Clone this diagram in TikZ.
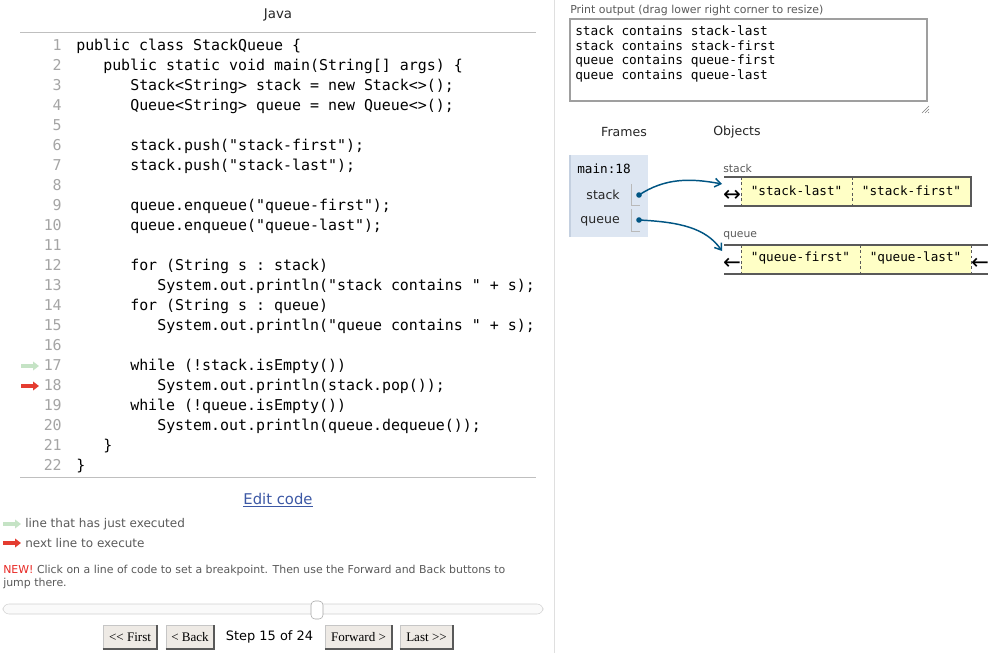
\documentclass[tikz,border=0pt]{standalone}
\usepackage{fontspec}
\setmainfont{DejaVu Sans}
\setmonofont{DejaVu Sans Mono}
\newfontfamily\btnfont{Liberation Serif}
\usetikzlibrary{arrows.meta}
\definecolor{objyellow}{RGB}{255,255,198}
\definecolor{framebg}{RGB}{221,230,242}
\definecolor{frameedge}{RGB}{196,208,224}
\definecolor{ptrblue}{RGB}{0,85,131}
\definecolor{lnumgray}{RGB}{165,165,165}
\definecolor{greenmark}{RGB}{197,227,197}
\definecolor{redmark}{RGB}{228,60,48}
\definecolor{linkblue}{RGB}{60,88,165}
\definecolor{btnfill}{RGB}{238,234,229}
\definecolor{newred}{RGB}{232,40,36}
\definecolor{softgray}{RGB}{90,90,90}
\begin{document}
\begin{tikzpicture}[x=0.75pt,y=-0.75pt]
\tikzstyle{every node}=[inner sep=0pt]
\tikzstyle{codeline}=[anchor=base west,font=\fontsize{11.2}{13}\selectfont\ttfamily]
\tikzstyle{lnum}=[anchor=base east,text=lnumgray,font=\fontsize{11.2}{13}\selectfont\ttfamily]
\tikzstyle{outline}=[anchor=west,font=\fontsize{9.6}{11}\selectfont\ttfamily]
\tikzstyle{legend}=[anchor=west,text=softgray,font=\fontsize{9}{11}\selectfont]
\tikzstyle{smalltext}=[anchor=west,text=softgray,font=\fontsize{8.2}{10}\selectfont]
\tikzstyle{header}=[text=black!85,font=\fontsize{9.4}{11}\selectfont]
\tikzstyle{button}=[fill=btnfill,draw=gray!45,minimum height=18pt,font=\btnfont\fontsize{9.8}{11}\selectfont]
\tikzstyle{btnshadow}=[gray!70!black,line width=1.3pt]
\tikzstyle{linemark}=[line width=3pt,-{Triangle[length=4.5pt,width=6.5pt]}]
\tikzstyle{ptrdot}=[circle,fill=ptrblue,minimum size=4.2pt]
\tikzstyle{ptr}=[ptrblue,line width=1.1pt,-{Straight Barb[length=4.5pt,width=6.5pt]}]
\tikzstyle{celltext}=[font=\fontsize{9.5}{11}\selectfont\ttfamily]
\tikzstyle{objedge}=[black!65,line width=0.8pt]
\tikzstyle{celldash}=[black!65,dash pattern=on 2pt off 2pt,line width=0.6pt]
\tikzstyle{endglyph}=[font=\fontsize{16}{16}\selectfont]
\fill[white] (0,0) rectangle (1005,670);
\useasboundingbox (0,0) rectangle (1005,670);

\node[header,font=\fontsize{10}{11}\selectfont] (java) at (278,15) {Java};
\draw[gray!50] (20,32) -- (536,32);
\draw[gray!50] (20,477) -- (536,477);
\draw[gray!25] (554,0) -- (554,653);
\foreach \row in {1,...,22}
  \node[lnum] (num\row) at (62,{50.7+20*(\row-1)}) {\row};
\foreach \row/\lvl/\src in {
  1/0/{public class StackQueue \{},
  2/1/{public static void main(String[] args) \{},
  3/2/{Stack<String> stack = new Stack<>();},
  4/2/{Queue<String> queue = new Queue<>();},
  6/2/{stack.push("stack-first");},
  7/2/{stack.push("stack-last");},
  9/2/{queue.enqueue("queue-first");},
  10/2/{queue.enqueue("queue-last");},
  12/2/{for (String s : stack)},
  13/3/{System.out.println("stack contains " + s);},
  14/2/{for (String s : queue)},
  15/3/{System.out.println("queue contains " + s);},
  17/2/{while (!stack.isEmpty())},
  18/3/{System.out.println(stack.pop());},
  19/2/{while (!queue.isEmpty())},
  20/3/{System.out.println(queue.dequeue());},
  21/1/{\}},
  22/0/{\}}}
  \node[codeline] (code\row) at ({76+27*\lvl},{50.7+20*(\row-1)}) {\src};
\draw[linemark,greenmark] (21,366) -- (39,366);
\draw[linemark,redmark] (21,386) -- (39,386);

\node[text=linkblue,font=\fontsize{11.1}{13}\selectfont] (edit) at (278,500) {\underline{Edit code}};
\draw[linemark,greenmark] (3,524) -- (21,524);
\draw[linemark,redmark] (3,543) -- (21,543);
\node[legend] (justdone) at (25,524) {line that has just executed};
\node[legend] (nextup) at (25,543) {next line to execute};
\node[smalltext] (news) at (3,570) {\textcolor{newred}{NEW!} Click on a line of code to set a breakpoint. Then use the Forward and Back buttons to};
\node[smalltext] (news2) at (3,583) {jump there.};
\draw[rounded corners=4.5,fill=gray!4,draw=gray!35] (3,604) rectangle (543,614);
\draw[rounded corners=3,fill=white,draw=gray!70] (311,601) rectangle (323,619);
\node[button,minimum width=40.5pt] (first) at (130,637) {<\kern0pt< First};
\node[button,minimum width=36pt] (back) at (190,637) {< Back};
\node[font=\fontsize{9.7}{11}\selectfont] (step) at (269.5,637) {Step 15 of 24};
\node[button,minimum width=50pt] (forward) at (358.5,637) {Forward >};
\node[button,minimum width=39.75pt] (last) at (426.5,637) {Last >\kern0pt>};
\foreach \b in {first,back,forward,last}
  \draw[btnshadow] (\b.south west) -- (\b.south east) -- (\b.north east);

\node[smalltext] (outlabel) at (570,10) {Print output (drag lower right corner to resize)};
\draw[gray!75,line width=1.1pt] (570,19) rectangle (927,101);
\foreach \k/\txt in {0/stack contains stack-last,1/stack contains stack-first,2/queue contains queue-first,3/queue contains queue-last}
  \node[outline] (out\k) at (575,{30.7+15*\k}) {\txt};
\draw[gray] (922,113) -- (929,106) (925,113) -- (929,109) (928,113) -- (929,112);

\node[header] (frames) at (624,132) {Frames};
\node[header] (objects) at (737,132) {Objects};
\fill[framebg] (570,155) rectangle (648,237);
\draw[frameedge,line width=1pt] (570,155) -- (570,237);
\node[celltext,anchor=west] (mainfr) at (577,169) {main:18};
\node[header,anchor=base east] (stackvar) at (620,199.5) {stack};
\node[header,anchor=base east] (queuevar) at (620,223.5) {queue};
\draw[gray!55] (631,184) |- (640,205);
\draw[gray!55] (631,209) |- (640,231);
\node[ptrdot] (sdot) at (639,195) {};
\node[ptrdot] (qdot) at (639,220) {};

\node[smalltext,font=\fontsize{8.1}{10}\selectfont] (stacklbl) at (723,168) {stack};
\fill[objyellow] (741,177) rectangle (971,206);
\draw[objedge] (724,177) -- (971,177) -- (971,206) -- (724,206);
\draw[celldash] (741,177) -- (741,206) (852,177) -- (852,206);
\node[celltext] (stack1) at (796.5,191) {"stack-last"};
\node[celltext] (stack2) at (911.5,191) {"stack-first"};
\node[endglyph] (stackend) at (732,195.5) {↔};
\coordinate (stackin) at (722,184);

\node[smalltext,font=\fontsize{8.1}{10}\selectfont] (queuelbl) at (723,236) {queue};
\fill[objyellow] (741,245) rectangle (971,274);
\draw[objedge] (724,245) -- (988,245) (724,274) -- (988,274);
\draw[celldash] (741,245) -- (741,274) (860,245) -- (860,274) (971,245) -- (971,274);
\node[celltext] (queue1) at (800.5,258) {"queue-first"};
\node[celltext] (queue2) at (915.5,258) {"queue-last"};
\node[endglyph] (queuehead) at (732,263.5) {←};
\node[endglyph] (queuetail) at (980,263.5) {←};
\coordinate (queuein) at (722,251);

\draw[ptr] (sdot.center) .. controls (665,178) and (690,178) .. (stackin);
\draw[ptr] (qdot.center) .. controls (680,222) and (706,228) .. (queuein);
\end{tikzpicture}
\end{document}
